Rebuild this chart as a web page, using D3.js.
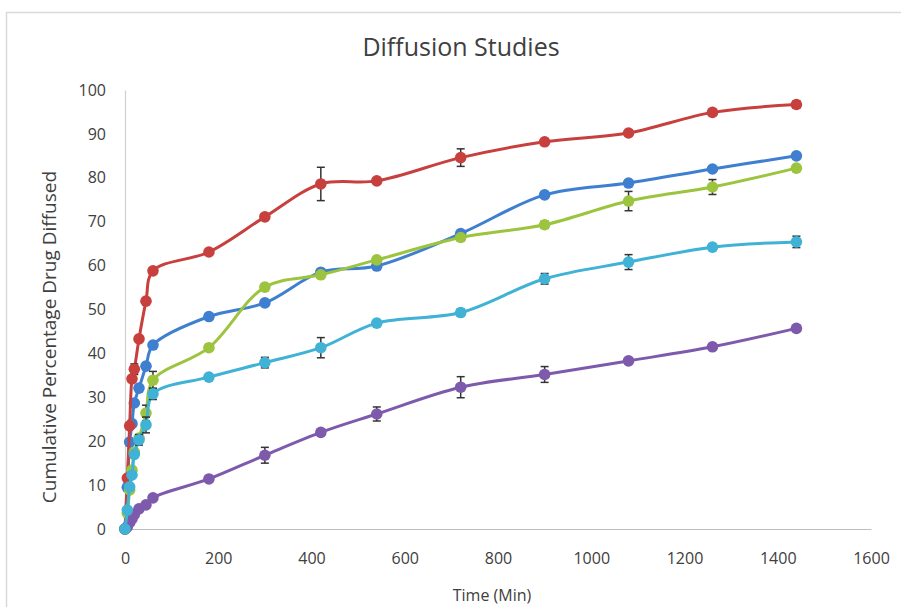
<!DOCTYPE html>
<html>
<head>
<meta charset="utf-8">
<script src="https://cdn.jsdelivr.net/npm/d3@7"></script>
<style>
    html, body { margin: 0; padding: 0; background: #fff; }
    #chart { width: 901px; height: 607px; }
</style>
</head>
<body>
<div id="chart"></div>
<script>
// sampling times (min)
const times = [0, 5, 10, 15, 20, 30, 45, 60, 180, 300, 420, 540, 720, 900, 1080, 1260, 1440];

// cumulative % drug diffused, one array per formulation
const seriesBlue   = [0, 9.5, 19.8, 24.0, 28.7, 32.1, 37.1, 41.9, 48.4, 51.5, 58.5, 59.9, 67.3, 76.1, 78.8, 82.0, 85.0];
const seriesRed    = [0, 11.6, 23.5, 34.2, 36.4, 43.3, 51.9, 58.8, 63.1, 71.1, 78.6, 79.3, 84.6, 88.2, 90.2, 94.9, 96.7];
const seriesGreen  = [0, 3.6, 8.9, 13.4, 17.5, 20.7, 26.4, 33.9, 41.3, 55.1, 57.9, 61.3, 66.4, 69.3, 74.7, 77.9, 82.2];
const seriesPurple = [0, 0.5, 1.5, 2.3, 3.3, 4.6, 5.5, 7.1, 11.4, 16.8, 22.0, 26.2, 32.3, 35.2, 38.3, 41.5, 45.7];
const seriesCyan   = [0, 4.3, 9.6, 12.3, 17.0, 20.3, 23.7, 30.8, 34.6, 37.9, 41.3, 46.9, 49.3, 57.0, 60.8, 64.2, 65.4];

// +/- error (SD), 0 = no bar
const errBlue   = [0, 0, 0, 0, 0, 0, 0, 0, 0, 0, 0.5, 0, 0, 0, 0, 0, 0];
const errRed    = [0, 0, 0, 0, 1.2, 0, 0, 0, 0, 0, 3.8, 0, 2.0, 0, 0, 0, 0.8];
const errGreen  = [0, 0, 0, 0, 0, 0, 1.8, 2.0, 0.5, 0, 0.8, 0, 0.8, 0.8, 2.2, 1.7, 0];
const errPurple = [0, 0, 0, 0, 0, 0, 0, 0, 0, 1.8, 0, 1.6, 2.4, 1.8, 0, 0, 0];
const errCyan   = [0, 0, 0, 0, 0, 1.2, 1.8, 1.3, 0.6, 1.2, 2.3, 0.6, 0.8, 1.2, 1.7, 0, 1.3];

const xTicks = [0, 200, 400, 600, 800, 1000, 1200, 1400, 1600];
const yTicks = [0, 10, 20, 30, 40, 50, 60, 70, 80, 90, 100];

const series = [
    { values: seriesBlue,   err: errBlue,   color: "#3F7FD0" },
    { values: seriesRed,    err: errRed,    color: "#C8403E" },
    { values: seriesGreen,  err: errGreen,  color: "#9CC43F" },
    { values: seriesPurple, err: errPurple, color: "#7D5AAB" },
    { values: seriesCyan,   err: errCyan,   color: "#3FB2D6" }
];

const W = 901, H = 607;
const plot = { left: 125, right: 871, top: 90, bottom: 529 };
const fontFam = "'Open Sans', 'Noto Sans', sans-serif";

const svg = d3.select("#chart").append("svg")
    .attr("width", W)
    .attr("height", H);

// outer chart border (runs off the right/bottom of the picture)
svg.append("rect")
    .attr("x", 6.5).attr("y", 12.5)
    .attr("width", W + 20).attr("height", H + 20)
    .attr("fill", "#fff")
    .attr("stroke", "#d9d9d9")
    .attr("stroke-width", 1.5);

const x = d3.scaleLinear().domain([0, 1600]).range([plot.left, plot.right]);
const y = d3.scaleLinear().domain([0, 100]).range([plot.bottom, plot.top]);

// Axes
const xAxis = svg.append("g")
    .attr("transform", `translate(0,${plot.bottom})`)
    .call(d3.axisBottom(x).tickValues(xTicks).tickFormat(d3.format("d")).tickSize(0).tickPadding(24));
xAxis.select(".domain").attr("stroke", "#bfbfbf").attr("stroke-width", 1.2);

const yAxis = svg.append("g")
    .attr("transform", `translate(${plot.left},0)`)
    .call(d3.axisLeft(y).tickValues(yTicks).tickSize(0).tickPadding(19));
yAxis.select(".domain").attr("stroke", "#d0d0d0").attr("stroke-width", 1.2);

svg.selectAll(".tick text")
    .attr("fill", "#404040")
    .style("font-family", fontFam)
    .style("font-size", "16px");

// Lines, error bars and markers
const line = d3.line()
    .x((d) => x(d.t))
    .y((d) => y(d.v))
    .curve(d3.curveCatmullRom.alpha(0.5));

series.forEach((s) => {
    const pts = times.map((t, i) => ({ t, v: s.values[i], e: s.err[i] }));

    svg.append("path")
        .datum(pts)
        .attr("fill", "none")
        .attr("stroke", s.color)
        .attr("stroke-width", 3)
        .attr("d", line);

    const bars = svg.append("g").selectAll("g")
        .data(pts.filter((d) => d.e > 0))
        .enter().append("g")
        .attr("stroke", "#333")
        .attr("stroke-width", 1.5);
    bars.append("line")
        .attr("x1", (d) => x(d.t)).attr("x2", (d) => x(d.t))
        .attr("y1", (d) => y(d.v - d.e)).attr("y2", (d) => y(d.v + d.e));
    bars.append("line")
        .attr("x1", (d) => x(d.t) - 4).attr("x2", (d) => x(d.t) + 4)
        .attr("y1", (d) => y(d.v + d.e)).attr("y2", (d) => y(d.v + d.e));
    bars.append("line")
        .attr("x1", (d) => x(d.t) - 4).attr("x2", (d) => x(d.t) + 4)
        .attr("y1", (d) => y(d.v - d.e)).attr("y2", (d) => y(d.v - d.e));

    svg.append("g").selectAll("circle")
        .data(pts)
        .enter().append("circle")
        .attr("cx", (d) => x(d.t))
        .attr("cy", (d) => y(d.v))
        .attr("r", 5.8)
        .attr("fill", s.color);
});

// Title
svg.append("text")
    .attr("x", 461)
    .attr("y", 56)
    .attr("text-anchor", "middle")
    .attr("fill", "#404040")
    .style("font-family", fontFam)
    .style("font-size", "25px")
    .text("Diffusion Studies");

// X-axis label
svg.append("text")
    .attr("x", 492)
    .attr("y", 601)
    .attr("text-anchor", "middle")
    .attr("fill", "#404040")
    .style("font-family", fontFam)
    .style("font-size", "16px")
    .text("Time (Min)");

// Y-axis label
svg.append("text")
    .attr("transform", "rotate(-90)")
    .attr("x", -337)
    .attr("y", 56)
    .attr("text-anchor", "middle")
    .attr("fill", "#404040")
    .style("font-family", fontFam)
    .style("font-size", "19px")
    .text("Cumulative Percentage Drug Diffused");
</script>
</body>
</html>
